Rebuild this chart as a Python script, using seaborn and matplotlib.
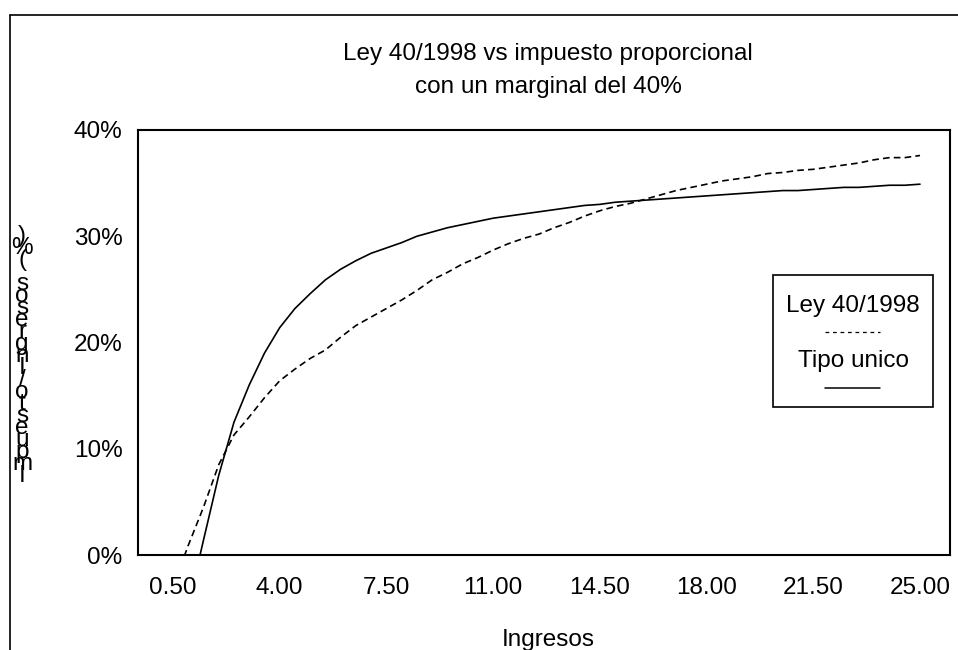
import matplotlib.pyplot as plt
import pandas as pd
import seaborn as sns
from matplotlib.lines import Line2D
from matplotlib.patches import Rectangle

# ingresos (categorias del eje X)
ingresos = [0.5 * i for i in range(1, 51)]

# tipo medio (%)
ley_40_1998 = [
    -3.0, 0.9, 4.5, 8.5, 11.3, 13.0, 14.8, 16.4, 17.5, 18.5,
    19.3, 20.5, 21.6, 22.4, 23.2, 24.0, 24.9, 25.9, 26.6, 27.4,
    28.0, 28.7, 29.3, 29.8, 30.2, 30.8, 31.3, 31.9, 32.4, 32.8,
    33.1, 33.5, 33.9, 34.3, 34.6, 34.9, 35.2, 35.4, 35.6, 35.9,
    36.0, 36.2, 36.3, 36.5, 36.7, 36.9, 37.2, 37.4, 37.4, 37.6,
]
tipo_unico = [
    -12.0, -4.8, 1.4, 7.5, 12.5, 16.0, 19.0, 21.4, 23.2, 24.6,
    25.9, 26.9, 27.7, 28.4, 28.9, 29.4, 30.0, 30.4, 30.8, 31.1,
    31.4, 31.7, 31.9, 32.1, 32.3, 32.5, 32.7, 32.9, 33.0, 33.2,
    33.3, 33.4, 33.5, 33.6, 33.7, 33.8, 33.9, 34.0, 34.1, 34.2,
    34.3, 34.3, 34.4, 34.5, 34.6, 34.6, 34.7, 34.8, 34.8, 34.9,
]
series = ["Ley 40/1998", "Tipo unico"]
y_ticks = [0, 10, 20, 30, 40]
titulo = ["Ley 40/1998 vs impuesto proporcional", "con un marginal del 40%"]
ylabel = "Impuesto/Ingresos (%)"

df = pd.concat([
    pd.DataFrame({"x": ingresos, "y": ley_40_1998, "serie": series[0]}),
    pd.DataFrame({"x": ingresos, "y": tipo_unico, "serie": series[1]}),
])

sns.set_style("white")
plt.rcParams["font.family"] = ["Liberation Sans", "DejaVu Sans"]
plt.rcParams["text.color"] = "black"
plt.rcParams["xtick.color"] = "black"
plt.rcParams["ytick.color"] = "black"
FS = 17.5

W, H = 958, 650
fig = plt.figure(figsize=(W / 100, H / 100), dpi=100)


def fx(px):
    return px / W


def fy(py):
    return 1 - py / H


ax = fig.add_axes([fx(138), fy(555), fx(950) - fx(138), fy(130) - fy(555)])

sns.lineplot(
    data=df, x="x", y="y", style="serie",
    dashes={series[0]: (4, 2.5), series[1]: ""},
    color="black", linewidth=1.2, legend=False, ax=ax,
)

ax.set_xlim(-0.648, 25.984)
ax.set_ylim(0, 40)
ax.set_yticks(y_ticks)
ax.set_yticklabels([f"{v}%" for v in y_ticks], fontsize=FS)
ax.set_xticks(ingresos)
ax.set_xticklabels([f"{v:.2f}" if i % 7 == 0 else "" for i, v in enumerate(ingresos)],
                   fontsize=FS)
ax.tick_params(axis="y", length=0, pad=11)
ax.tick_params(axis="x", length=7, width=1, direction="out", pad=9, color="black")
ax.set_xlabel("")
ax.set_ylabel("")
for s in ax.spines.values():
    s.set_color("black")
    s.set_linewidth(1.5)

# titulo
fig.text(fx(548), fy(60), titulo[0], ha="center", va="baseline", fontsize=FS)
fig.text(fx(548), fy(93), titulo[1], ha="center", va="baseline", fontsize=FS)

# eje X
fig.text(fx(548), fy(646), "Ingresos", ha="center", va="baseline", fontsize=FS)

# eje Y: letras apiladas de abajo arriba, en un solo texto
fig.text(fx(22), fy(356), "\n".join(reversed(ylabel)), ha="center", va="center",
         multialignment="center", linespacing=0.41, fontsize=FS)

# leyenda
fig.add_artist(Rectangle((fx(773), fy(407)), fx(933) - fx(773), fy(275) - fy(407),
                         transform=fig.transFigure, fill=False, edgecolor="black",
                         linewidth=1.2))
fig.text(fx(853), fy(312), series[0], ha="center", va="baseline", fontsize=FS)
fig.add_artist(Line2D([fx(825), fx(880)], [fy(332), fy(332)], transform=fig.transFigure,
                      color="black", linewidth=0.9, dashes=(3, 3)))
fig.text(fx(853), fy(367), series[1], ha="center", va="baseline", fontsize=FS)
fig.add_artist(Line2D([fx(825), fx(880)], [fy(388), fy(388)], transform=fig.transFigure,
                      color="black", linewidth=1.1))

# marco exterior
fig.add_artist(Line2D([fx(10), fx(10)], [0, fy(15)], transform=fig.transFigure,
                      color="black", linewidth=1.2))
fig.add_artist(Line2D([fx(10), 1], [fy(15), fy(15)], transform=fig.transFigure,
                      color="black", linewidth=1.2))

fig.savefig("out.png", dpi=100)
plt.close(fig)
